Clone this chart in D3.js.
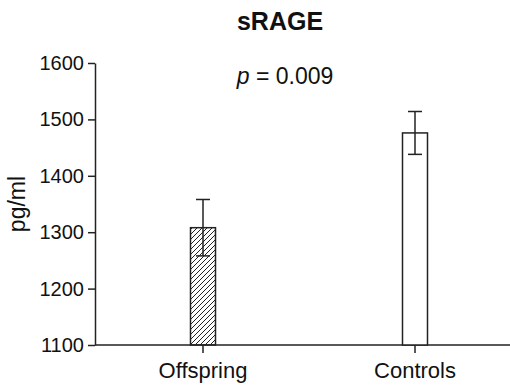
<!DOCTYPE html>
<html>
<head>
<meta charset="utf-8">
<script src="https://cdn.jsdelivr.net/npm/d3@7"></script>
<style>
  body { margin: 0; background: #fff; }
  svg { display: block; font-family: Arial, "Liberation Sans", sans-serif; }
</style>
</head>
<body>
<div id="chart"></div>
<script>
// Chart size
const width = 510;
const height = 385;

// Data
const groups = ["Offspring", "Controls"];
const means = [1308, 1476];
const errors = [50, 38];
const yTicks = [1100, 1200, 1300, 1400, 1500, 1600];

const ink = "#222";

const svg = d3.select("#chart")
    .append("svg")
    .attr("width", width)
    .attr("height", height);

// Hatch pattern for the offspring bar
const defs = svg.append("defs");
defs.append("pattern")
    .attr("id", "hatch")
    .attr("patternUnits", "userSpaceOnUse")
    .attr("width", 5)
    .attr("height", 5)
    .append("path")
    .attr("d", "M-1,1 l2,-2 M0,5 l5,-5 M4,6 l2,-2")
    .attr("stroke", ink)
    .attr("stroke-width", 1);

// Scales
const y = d3.scaleLinear()
    .domain([1100, 1600])
    .range([345, 63]);

const x = d3.scalePoint()
    .domain(groups)
    .range([97, 521])
    .padding(0.5);

const axisX = 95;
const baseY = y(1100);
const barW = 25;

// Y axis
const yAxis = svg.append("g")
    .attr("transform", `translate(${axisX},0)`)
    .call(d3.axisLeft(y).tickValues(yTicks).tickFormat(d3.format("d"))
        .tickSize(7).tickPadding(4).tickSizeOuter(0));
yAxis.selectAll("path, line").attr("stroke", ink).attr("stroke-width", 1.5);
yAxis.selectAll("text")
    .attr("font-size", 20)
    .attr("font-family", "Arial, 'Liberation Sans', sans-serif")
    .attr("fill", "#111");

// X axis line
svg.append("line")
    .attr("x1", axisX).attr("x2", width)
    .attr("y1", baseY).attr("y2", baseY)
    .attr("stroke", ink)
    .attr("stroke-width", 1.5);

// X ticks and labels
const xt = svg.append("g").selectAll("g")
    .data(groups)
    .join("g")
    .attr("transform", d => `translate(${x(d)},${baseY})`);
xt.append("line")
    .attr("y2", 8)
    .attr("stroke", ink)
    .attr("stroke-width", 1.5);
xt.append("text")
    .attr("y", 33)
    .attr("text-anchor", "middle")
    .attr("font-size", 22)
    .attr("fill", "#111")
    .text(d => d);

// Bars
svg.append("g").selectAll("rect")
    .data(groups)
    .join("rect")
    .attr("x", d => x(d) - barW / 2)
    .attr("y", (d, i) => y(means[i]))
    .attr("width", barW)
    .attr("height", (d, i) => baseY - y(means[i]))
    .attr("fill", (d, i) => i === 0 ? "url(#hatch)" : "#fff")
    .attr("stroke", ink)
    .attr("stroke-width", 1.5);

// Error bars
const eb = svg.append("g").selectAll("g")
    .data(groups)
    .join("g");
eb.append("line")
    .attr("x1", d => x(d)).attr("x2", d => x(d))
    .attr("y1", (d, i) => y(means[i] - errors[i]))
    .attr("y2", (d, i) => y(means[i] + errors[i]))
    .attr("stroke", ink)
    .attr("stroke-width", 1.5);
[-1, 1].forEach(s => {
    eb.append("line")
        .attr("x1", d => x(d) - 7).attr("x2", d => x(d) + 7)
        .attr("y1", (d, i) => y(means[i] + s * errors[i]))
        .attr("y2", (d, i) => y(means[i] + s * errors[i]))
        .attr("stroke", ink)
        .attr("stroke-width", 1.5);
});

// Title
svg.append("text")
    .attr("x", 280)
    .attr("y", 30)
    .attr("text-anchor", "middle")
    .attr("font-size", 25)
    .attr("font-weight", "bold")
    .attr("fill", "#111")
    .text("sRAGE");

// p value
const pText = svg.append("text")
    .attr("x", 285)
    .attr("y", 84)
    .attr("text-anchor", "middle")
    .attr("font-size", 23)
    .attr("fill", "#111");
pText.append("tspan").attr("font-style", "italic").text("p");
pText.append("tspan").text(" = 0.009");

// Y label
svg.append("text")
    .attr("transform", "translate(25,204) rotate(-90)")
    .attr("text-anchor", "middle")
    .attr("font-size", 23)
    .attr("fill", "#111")
    .text("pg/ml");
</script>
</body>
</html>
